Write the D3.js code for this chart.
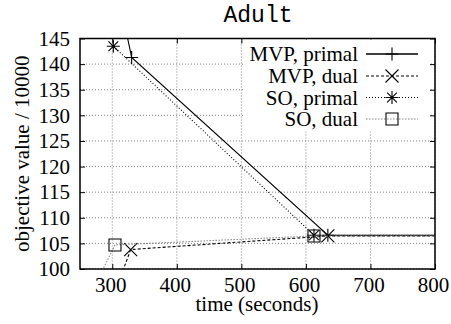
<!DOCTYPE html>
<html>
<head>
<meta charset="utf-8">
<script src="https://cdn.jsdelivr.net/npm/d3@7"></script>
<style>
  body { margin: 0; background: #fff; }
  svg { display: block; }
</style>
</head>
<body>
<div id="chart"></div>
<script>
// values
var xTicks = [300, 400, 500, 600, 700, 800];
var yTicks = [100, 105, 110, 115, 120, 125, 130, 135, 140, 145];
var seriesNames = ["MVP, primal", "MVP, dual", "SO, primal", "SO, dual"];

var mvpPrimalTime = [320, 330, 634, 850];
var mvpPrimalValue = [147.3, 141.3, 106.6, 106.6];
var mvpDualTime = [303, 328.5, 634, 850];
var mvpDualValue = [95, 103.8, 106.45, 106.45];
var soPrimalTime = [301.6, 612.5, 850];
var soPrimalValue = [143.5, 106.6, 106.6];
var soDualTime = [266, 304.2, 612.5, 850];
var soDualValue = [95, 104.7, 106.45, 106.45];

var width = 451, height = 324;
var pLeft = 80, pRight = 435, pTop = 38.5, pBottom = 269;
var serif = "'Liberation Serif', serif";
var fs = 21;

var svg = d3.select("#chart")
        .append("svg")
        .attr("width", width)
        .attr("height", height);

var x = d3.scaleLinear().domain([250, 800]).range([pLeft, pRight]);
var y = d3.scaleLinear().domain([100, 145]).range([pBottom, pTop]);

svg.append("defs").append("clipPath")
        .attr("id", "plot")
        .append("rect")
        .attr("x", pLeft)
        .attr("y", pTop)
        .attr("width", pRight - pLeft)
        .attr("height", pBottom - pTop);

// grid
svg.append("g").selectAll("line")
        .data(xTicks)
        .enter().append("line")
        .attr("x1", d => x(d)).attr("x2", d => x(d))
        .attr("y1", pTop).attr("y2", pBottom)
        .attr("stroke", "#666")
        .attr("stroke-width", 0.8)
        .attr("stroke-dasharray", "1,2");

svg.append("g").selectAll("line")
        .data(yTicks)
        .enter().append("line")
        .attr("x1", pLeft).attr("x2", pRight)
        .attr("y1", d => y(d)).attr("y2", d => y(d))
        .attr("stroke", "#666")
        .attr("stroke-width", 0.8)
        .attr("stroke-dasharray", "1,2");

// axes: ticks inward on all four sides
var xb = svg.append("g")
        .attr("transform", "translate(0," + pBottom + ")")
        .call(d3.axisBottom(x).tickValues(xTicks).tickSizeInner(-5).tickSizeOuter(0).tickPadding(8));
var xt = svg.append("g")
        .attr("transform", "translate(0," + pTop + ")")
        .call(d3.axisTop(x).tickValues(xTicks).tickSizeInner(-5).tickSizeOuter(0).tickFormat(""));
var yl = svg.append("g")
        .attr("transform", "translate(" + pLeft + ",0)")
        .call(d3.axisLeft(y).tickValues(yTicks).tickSizeInner(-5).tickSizeOuter(0).tickPadding(10));
var yr = svg.append("g")
        .attr("transform", "translate(" + pRight + ",0)")
        .call(d3.axisRight(y).tickValues(yTicks).tickSizeInner(-5).tickSizeOuter(0).tickFormat(""));

[xb, xt, yl, yr].forEach(function (g) {
    g.select(".domain").remove();
    g.selectAll("line").attr("stroke", "#000").attr("stroke-width", 1);
    g.selectAll("text")
        .attr("font-family", serif)
        .attr("font-size", fs)
        .attr("fill", "#000");
});
xb.selectAll("text").attr("dx", -2);

// legend box hides the grid behind it
svg.append("rect")
        .attr("x", 243)
        .attr("y", pTop + 1)
        .attr("width", 187)
        .attr("height", 92)
        .attr("fill", "#fff");

// frame
svg.append("rect")
        .attr("x", pLeft)
        .attr("y", pTop)
        .attr("width", pRight - pLeft)
        .attr("height", pBottom - pTop)
        .attr("fill", "none")
        .attr("stroke", "#000")
        .attr("stroke-width", 1.5);

var styles = [
    {dash: null, color: "#000", marker: "plus"},
    {dash: "3,2", color: "#000", marker: "cross"},
    {dash: "1,2", color: "#000", marker: "star"},
    {dash: "1.5,1.5", color: "#888", marker: "square"}
];

var series = [
    d3.zip(mvpPrimalTime, mvpPrimalValue),
    d3.zip(mvpDualTime, mvpDualValue),
    d3.zip(soPrimalTime, soPrimalValue),
    d3.zip(soDualTime, soDualValue)
];

function drawMarker(g, kind, cx, cy, color) {
    var s = 6.5;
    var path = "";
    if (kind == "plus" || kind == "star") {
        path += "M" + (cx - s) + "," + cy + "H" + (cx + s) + "M" + cx + "," + (cy - s) + "V" + (cy + s);
    }
    if (kind == "cross" || kind == "star") {
        var k = kind == "star" ? s * 0.75 : s;
        path += "M" + (cx - k) + "," + (cy - k) + "L" + (cx + k) + "," + (cy + k) +
                "M" + (cx - k) + "," + (cy + k) + "L" + (cx + k) + "," + (cy - k);
    }
    if (kind == "square") {
        path += "M" + (cx - 6) + "," + (cy - 6) + "h12v12h-12Z";
    }
    g.append("path")
        .attr("d", path)
        .attr("fill", "none")
        .attr("stroke", kind == "square" ? "#000" : color)
        .attr("stroke-width", 1.1);
}

var line = d3.line().x(d => x(d[0])).y(d => y(d[1]));
var plot = svg.append("g").attr("clip-path", "url(#plot)");

series.forEach(function (pts, i) {
    var st = styles[i];
    plot.append("path")
        .datum(pts)
        .attr("d", line)
        .attr("fill", "none")
        .attr("stroke", st.color)
        .attr("stroke-width", 1.1)
        .attr("stroke-dasharray", st.dash);
    pts.forEach(function (p) {
        drawMarker(plot, st.marker, x(p[0]), y(p[1]), st.color);
    });
});

// legend
var rowY = [54, 76, 97.5, 119];
seriesNames.forEach(function (name, i) {
    var st = styles[i];
    svg.append("text")
        .attr("x", 358)
        .attr("y", rowY[i])
        .attr("dy", "0.35em")
        .attr("text-anchor", "end")
        .attr("font-family", serif)
        .attr("font-size", fs)
        .text(name);
    svg.append("line")
        .attr("x1", 366).attr("x2", 418)
        .attr("y1", rowY[i]).attr("y2", rowY[i])
        .attr("stroke", st.color)
        .attr("stroke-width", i == 0 ? 1.3 : 1.1)
        .attr("stroke-dasharray", st.dash);
    drawMarker(svg, st.marker, 392, rowY[i], st.color);
});

// titles
svg.append("text")
        .attr("x", 258)
        .attr("y", 22)
        .attr("text-anchor", "middle")
        .attr("font-family", "'Liberation Mono', monospace")
        .attr("font-size", 23)
        .text("Adult");

svg.append("text")
        .attr("x", 257)
        .attr("y", 311)
        .attr("text-anchor", "middle")
        .attr("font-family", serif)
        .attr("font-size", fs)
        .text("time (seconds)");

svg.append("text")
        .attr("transform", "translate(29," + ((pTop + pBottom) / 2) + ") rotate(-90)")
        .attr("text-anchor", "middle")
        .attr("font-family", serif)
        .attr("font-size", fs)
        .text("objective value / 10000");
</script>
</body>
</html>
